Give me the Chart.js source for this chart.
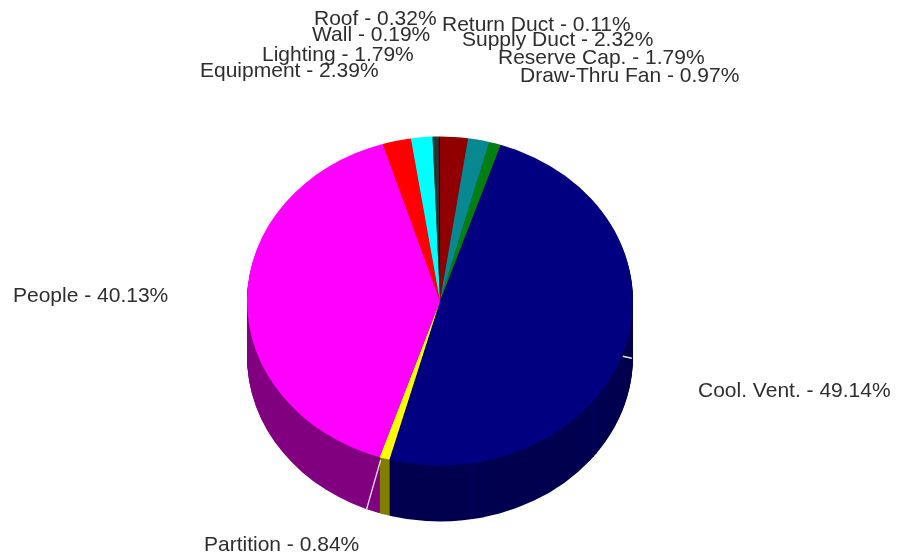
<!DOCTYPE html>
<html>
<head>
<meta charset="utf-8">
<style>
  html, body { margin: 0; padding: 0; background: #fff; }
  #wrap { position: relative; width: 899px; height: 558px; }
</style>
<script src="https://cdn.jsdelivr.net/npm/chart.js@4/dist/chart.umd.min.js"></script>
</head>
<body>
<div id="wrap"><canvas id="myChart" width="899" height="558"></canvas></div>
<script>
// load components, percent of total, clockwise
const categories = ["Cool. Vent.", "Partition", "People", "Equipment", "Lighting", "Wall", "Roof", "Return Duct", "Supply Duct", "Reserve Cap.", "Draw-Thru Fan"];
const shares = [49.14, 0.84, 40.13, 2.39, 1.79, 0.19, 0.32, 0.11, 2.32, 1.79, 0.97];
const topColors = ["#000080", "#ffff00", "#ff00ff", "#ff0000", "#00ffff", "#004040", "#303030", "#400000", "#900000", "#088890", "#008010"];
const sideColors = ["#000050", "#808000", "#800080", "#800000", "#008080", "#004040", "#202020", "#000000", "#500000", "#005050", "#005000"];
// left edge and vertical middle of each label
const labelX = [698, 204, 13, 200, 262, 312, 314, 442, 462, 498, 520];
const labelY = [391, 545, 296, 71, 55.5, 35.5, 19.5, 25, 40, 58.5, 76];

// pie tilt: the round pie gets squashed to this ratio, and extruded downwards
const squash = 164.5 / 193;
const depth = 56;
// facet seams on the cool vent rim, as a fraction along that slice
const seamSpots = [0.609, 0.617, 0.841, 0.859];

function rimPoint(arc, angle) {
  return {
    x: arc.x + Math.cos(angle) * arc.outerRadius,
    y: arc.y + Math.sin(angle) * arc.outerRadius * squash
  };
}

// squash the pie and draw the extruded rim under it
const tiltPlugin = {
  id: "tilt",
  beforeDatasetsDraw(chart) {
    const ctx = chart.ctx;
    const arcs = chart.getDatasetMeta(0).data;
    const cy = arcs[0].y;
    for (let d = depth; d >= 1; d--) {
      ctx.save();
      ctx.translate(0, cy + d);
      ctx.scale(1, squash);
      ctx.translate(0, -cy);
      arcs.forEach((arc, i) => {
        const base = arc.options;
        arc.options = Object.assign({}, base, { backgroundColor: sideColors[i], borderWidth: 0 });
        arc.draw(ctx);
        arc.options = base;
      });
      ctx.restore();
    }

    // seams on the dark rim
    const vent = arcs[0];
    ctx.save();
    ctx.strokeStyle = "#000066";
    ctx.lineWidth = 1;
    seamSpots.forEach(f => {
      const p = rimPoint(vent, vent.startAngle + f * (vent.endAngle - vent.startAngle));
      ctx.beginPath();
      ctx.moveTo(p.x, p.y);
      ctx.lineTo(p.x, p.y + depth);
      ctx.stroke();
    });
    ctx.restore();

    ctx.save();
    ctx.translate(0, cy);
    ctx.scale(1, squash);
    ctx.translate(0, -cy);
  },
  afterDatasetsDraw(chart) {
    const ctx = chart.ctx;
    ctx.restore();
    const arcs = chart.getDatasetMeta(0).data;

    // white edge where the partition slice meets people on the rim
    const p = rimPoint(arcs[1], arcs[1].endAngle);
    ctx.save();
    ctx.strokeStyle = "#f6dcf6";
    ctx.lineWidth = 1.3;
    ctx.beginPath();
    ctx.moveTo(p.x + 1, p.y + 3);
    ctx.lineTo(p.x - 13, p.y + depth - 4);
    ctx.stroke();

    // small nick on the right side of the rim
    const vent = arcs[0];
    const n = rimPoint(vent, vent.startAngle + 0.516 * (vent.endAngle - vent.startAngle));
    ctx.strokeStyle = "#e8e8f4";
    ctx.lineWidth = 1.5;
    ctx.beginPath();
    ctx.moveTo(n.x + 1, n.y);
    ctx.lineTo(n.x + 10, n.y + 2);
    ctx.stroke();
    ctx.restore();

    // labels
    ctx.save();
    ctx.font = "21px 'Liberation Sans', Arial, sans-serif";
    ctx.fillStyle = "#2e2e2e";
    ctx.textBaseline = "middle";
    ctx.textAlign = "left";
    categories.forEach((name, i) => {
      ctx.fillText(name + " - " + shares[i].toFixed(2) + "%", labelX[i], labelY[i]);
    });
    ctx.restore();
  }
};

new Chart(document.getElementById("myChart"), {
  type: "pie",
  data: {
    labels: categories,
    datasets: [{
      data: shares,
      backgroundColor: topColors,
      borderWidth: 0
    }]
  },
  options: {
    responsive: false,
    animation: false,
    rotation: 18.3,
    // leaves a 386px plot centred on (440, 301)
    layout: { padding: { left: 247, right: 266, top: 108, bottom: 64 } },
    plugins: {
      legend: { display: false },
      tooltip: { enabled: false }
    }
  },
  plugins: [tiltPlugin]
});
</script>
</body>
</html>
